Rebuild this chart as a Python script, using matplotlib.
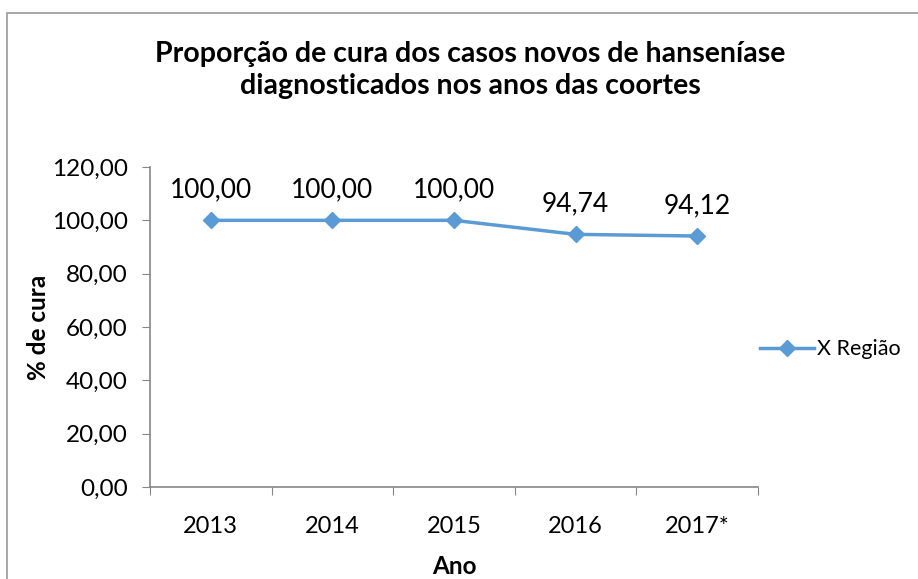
import matplotlib.pyplot as plt
from matplotlib.patches import Rectangle

anos = ["2013", "2014", "2015", "2016", "2017*"]
cura = [100.00, 100.00, 100.00, 94.74, 94.12]
yticks = [0, 20, 40, 60, 80, 100, 120]

plt.rcParams['font.family'] = ['Lato', 'DejaVu Sans']
azul = "#5B9BD5"
cinza = "#868686"

fig = plt.figure(figsize=(9.18, 5.79), dpi=100)
# moldura do grafico (cortada a direita e embaixo)
fig.patches.append(Rectangle((7 / 918, -0.1), 1.2, 1 - 13 / 579 + 0.1,
                             transform=fig.transFigure, fill=False,
                             edgecolor="#9a9a9a", linewidth=1.2))

ax = fig.add_axes([150 / 918, 1 - 487 / 579, (758 - 150) / 918, (487 - 167) / 579])
x = list(range(len(anos)))
ax.plot(x, cura, color=azul, linewidth=2.5, marker="D", markersize=8, label="X Região")

for xi, v in zip(x, cura):
    ax.annotate(f"{v:.2f}".replace(".", ","), (xi, v), xytext=(0, 13),
                textcoords="offset points", ha="center", va="bottom", fontsize=19)

ax.set_xlim(-0.5, len(anos) - 0.5)
ax.set_ylim(0, 120)
ax.set_yticks(yticks)
ax.set_yticklabels([f"{t:.2f}".replace(".", ",") for t in yticks], fontsize=17.5)
ax.set_xticks([i + 0.5 for i in range(-1, len(anos))], minor=False)
ax.set_xticklabels([])
ax.set_xticks(x, minor=True)
ax.set_xticklabels(anos, minor=True, fontsize=17)
ax.tick_params(axis="x", which="minor", length=0, pad=21)
ax.tick_params(axis="x", which="major", length=6, color=cinza)
ax.tick_params(axis="y", length=6, color=cinza, pad=10)

for s in ["top", "right"]:
    ax.spines[s].set_visible(False)
for s in ["left", "bottom"]:
    ax.spines[s].set_color(cinza)
    ax.spines[s].set_linewidth(1.2)

ax.set_xlabel("Ano", fontsize=17.5, fontweight="bold", labelpad=13)
ax.set_ylabel("% de cura", fontsize=17.5, fontweight="bold", labelpad=1)

fig.text(470 / 918, 1 - 70 / 579, "Proporção de cura dos casos novos de hanseníase\ndiagnosticados nos anos das coortes",
         ha="center", va="center", fontsize=20.5, fontweight="bold", linespacing=1.3)

ax.legend(loc="center left", bbox_to_anchor=(1.0 + 2 / 608, 0.43), frameon=False,
          fontsize=15.5, handlelength=2.5, handletextpad=0.15,
          borderaxespad=0, borderpad=0)

fig.savefig("out.png", dpi=100)
